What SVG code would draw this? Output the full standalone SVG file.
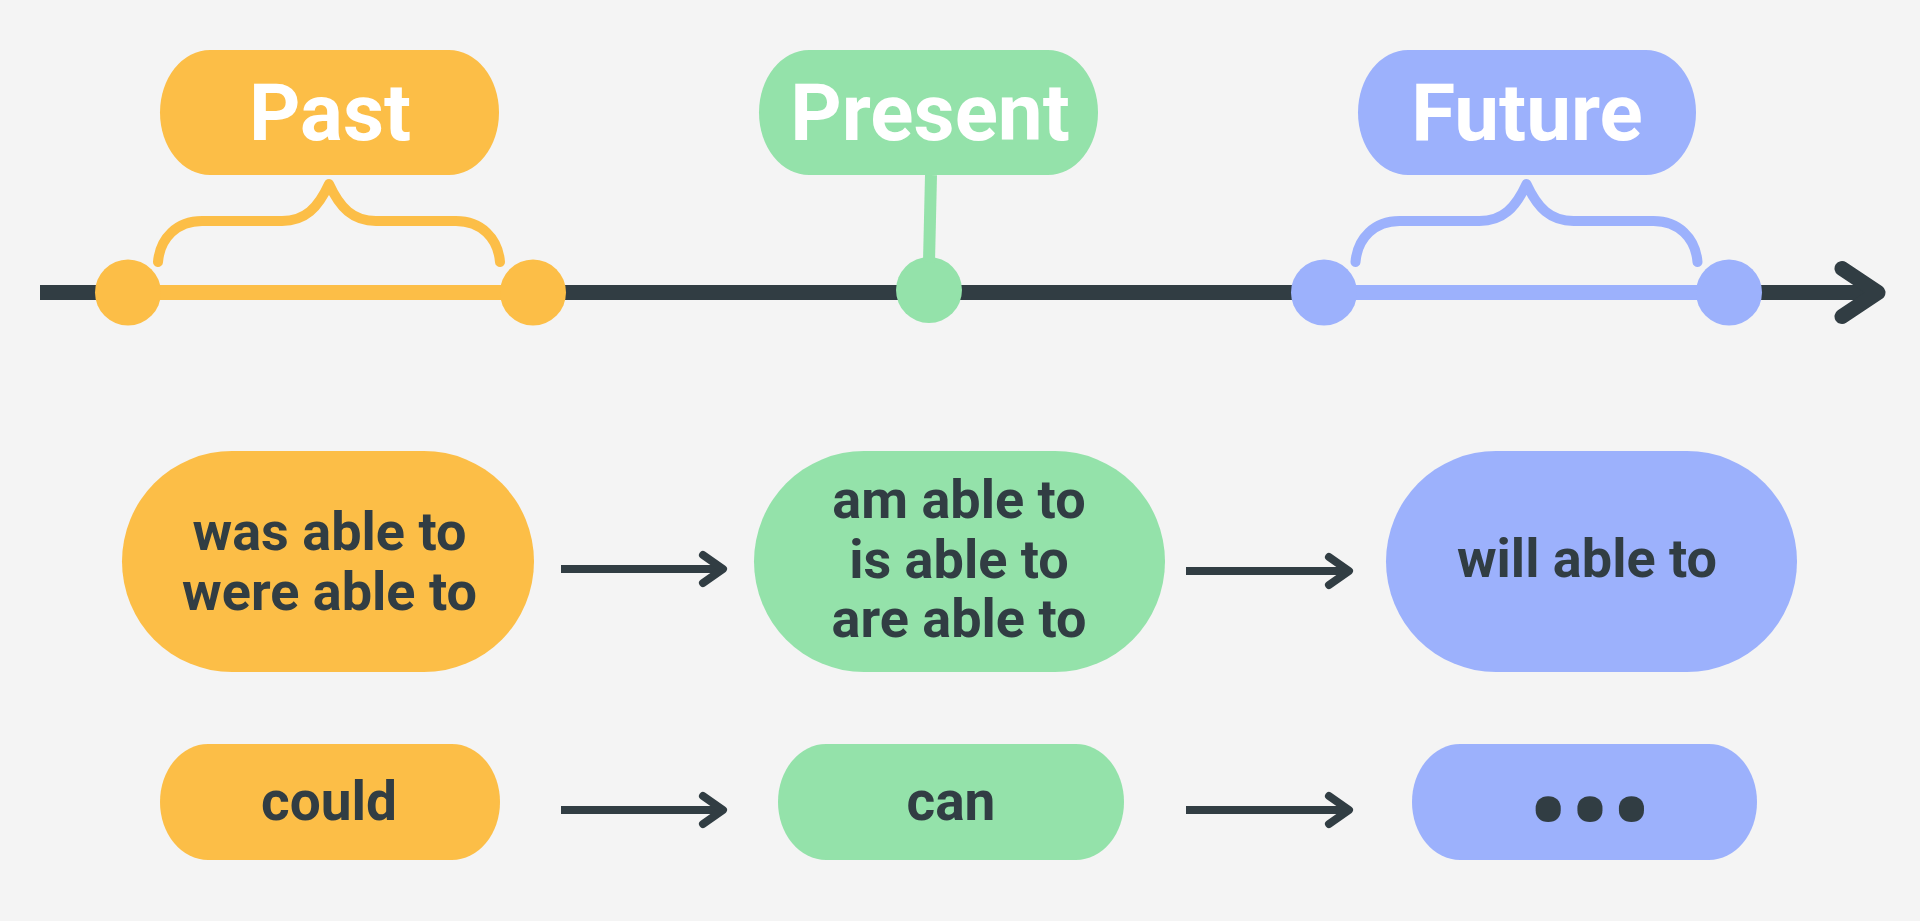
<svg xmlns="http://www.w3.org/2000/svg" width="1920" height="921" viewBox="0 0 1920 921">
<style>
.bg{fill:#F4F4F4}
.or{fill:#FCBE47}
.gr{fill:#94E2AA}
.bl{fill:#9CB1FC}
.title{font-family:Roboto,"Liberation Sans",sans-serif;font-weight:700;font-size:80px;fill:#FFFFFF;text-anchor:middle}
.lbl{font-family:Roboto,"Liberation Sans",sans-serif;font-weight:700;font-size:54px;fill:#313D43;text-anchor:middle}
.conn{stroke:#313D43;stroke-width:8;fill:none;marker-end:url(#arr)}
.brace{fill:none;stroke-width:10;stroke-linecap:round;stroke-linejoin:round}
</style>
<defs>
<marker id="arr" markerUnits="userSpaceOnUse" viewBox="-30 -20 40 40" markerWidth="40" markerHeight="40" refX="0" refY="0" orient="auto">
<path d="M-20,-14 L0,0 L-20,14" fill="none" stroke="#313D43" stroke-width="8" stroke-linecap="round" stroke-linejoin="round"/>
</marker>
<marker id="arrBig" markerUnits="userSpaceOnUse" viewBox="-50 -35 60 70" markerWidth="60" markerHeight="70" refX="0" refY="0" orient="auto">
<path d="M-36,-24 L0,0 L-36,24" fill="none" stroke="#313D43" stroke-width="15" stroke-linecap="round" stroke-linejoin="round"/>
</marker>
</defs>
<rect class="bg" x="0" y="0" width="1920" height="921"/>

<g id="timeline">
<path d="M40,292.5 H1878" stroke="#313D43" stroke-width="15" fill="none" marker-end="url(#arrBig)"/>
<path d="M128,292.5 H533" stroke="#FCBE47" stroke-width="15"/>
<path d="M1324,292.5 H1729" stroke="#9CB1FC" stroke-width="15"/>
<circle class="or" cx="128" cy="292.5" r="33"/>
<circle class="or" cx="533" cy="292.5" r="33"/>
<circle class="gr" cx="929" cy="290" r="33"/>
<circle class="bl" cx="1324" cy="292.5" r="33"/>
<circle class="bl" cx="1729" cy="292.5" r="33"/>
<path class="brace" stroke="#FCBE47" d="M158,262 C160,238 177,221 202,221 L282,221 C305,221 318,208 329,184 C340,208 353,221 376,221 L456,221 C481,221 498,238 500,262"/>
<path class="brace" stroke="#9CB1FC" transform="translate(1197.5,0)" d="M158,262 C160,238 177,221 202,221 L282,221 C305,221 318,208 329,184 C340,208 353,221 376,221 L456,221 C481,221 498,238 500,262"/>
<path d="M931,175 L929,262" stroke="#94E2AA" stroke-width="12" fill="none"/>
</g>

<g id="past">
<rect class="or" x="160" y="50" width="339" height="125" rx="50" ry="62.5"/>
<text class="title" x="330" y="140">Past</text>
</g>
<g id="present">
<rect class="gr" x="759" y="50" width="339" height="125" rx="50" ry="62.5"/>
<text class="title" x="930" y="140">Present</text>
</g>
<g id="future">
<rect class="bl" x="1358" y="50" width="338" height="125" rx="50" ry="62.5"/>
<text class="title" x="1527" y="140">Future</text>
</g>

<g id="past-able">
<rect class="or" x="122" y="451" width="412" height="221" rx="110" ry="110.5"/>
<text class="lbl" x="329.5" y="550">was able to</text>
<text class="lbl" x="329.5" y="610">were able to</text>
</g>
<g id="present-able">
<rect class="gr" x="754" y="451" width="411" height="221" rx="110" ry="110.5"/>
<text class="lbl" x="959" y="518">am able to</text>
<text class="lbl" x="959" y="578">is able to</text>
<text class="lbl" x="959" y="637">are able to</text>
</g>
<g id="future-able">
<rect class="bl" x="1386" y="451" width="411" height="221" rx="110" ry="110.5"/>
<text class="lbl" x="1587" y="577">will able to</text>
</g>

<g id="could">
<rect class="or" x="160" y="744" width="340" height="116" rx="48" ry="58"/>
<text class="lbl" x="329" y="820" style="font-size:55px">could</text>
</g>
<g id="can">
<rect class="gr" x="778" y="744" width="346" height="116" rx="48" ry="58"/>
<text class="lbl" x="951" y="820" style="font-size:55px">can</text>
</g>
<g id="more">
<rect class="bl" x="1412" y="744" width="345" height="116" rx="48" ry="58"/>
<text class="lbl" x="1591" y="848" style="font-size:108px;letter-spacing:2.9px">•••</text>
</g>

<g id="connectors">
<path class="conn" d="M561,569 H723"/>
<path class="conn" d="M561,810 H723"/>
<path class="conn" d="M1186,571 H1349"/>
<path class="conn" d="M1186,810 H1349"/>
</g>
</svg>
